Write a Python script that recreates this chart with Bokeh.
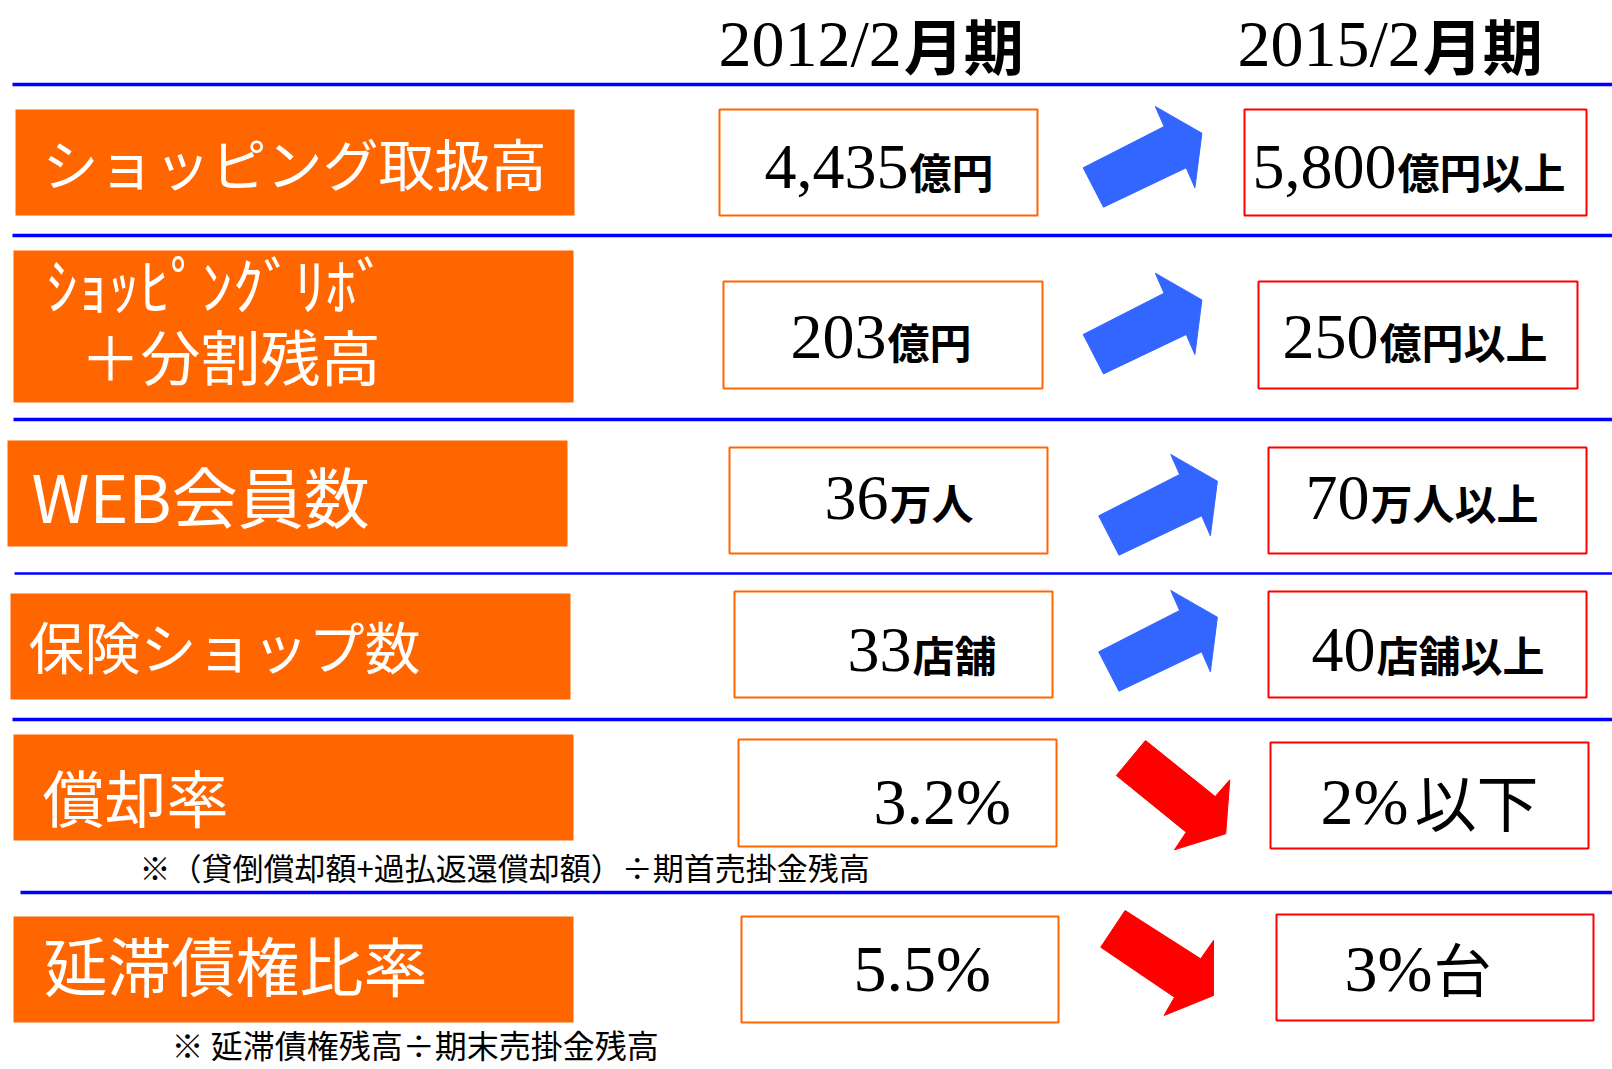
from bokeh.plotting import figure
from bokeh.models import Range1d, ColumnDataSource
from bokeh.core.properties import value
from bokeh.embed import file_html
from bokeh.resources import INLINE

# ---------------- data ----------------
period_years = ["2012/2", "2015/2"]
period_units = ["月期", "月期"]

metric_lines = [
    ["ショッピング取扱高"],
    ["ｼｮｯﾋﾟﾝｸﾞﾘﾎﾞ", "＋分割残高"],
    ["WEB会員数"],
    ["保険ショップ数"],
    ["償却率"],
    ["延滞債権比率"],
]
values_2012 = ["4,435", "203", "36", "33", "3.2%", "5.5%"]
units_2012 = ["億円", "億円", "万人", "店舗", "", ""]
targets_2015 = ["5,800", "250", "70", "40", "2%", "3%"]
units_2015 = ["億円以上", "億円以上", "万人以上", "店舗以上", "以下", "台"]
trend = ["up", "up", "up", "up", "down", "down"]
notes = ["", "", "", "",
         "※（貸倒償却額+過払返還償却額）÷期首売掛金残高",
         "※   延滞債権残高÷期末売掛金残高"]

# ---------------- layout / style ----------------
W, H = 1612, 1069
ORANGE = "#FF6600"
BLUE_LINE = "#0000FF"
BLUE_ARROW = "#3366FF"
RED = "#FF0000"
SERIF = "Liberation Serif"
GOTHIC = "Noto Sans CJK JP"

rule_y = [84, 235, 419, 573, 719, 892]
rule_x0 = [12, 12, 13, 14, 12, 20]
rule_w = [3.5, 3.5, 3.5, 2.5, 3.5, 3.5]

label_box = [(15, 574, 109, 215), (13, 573, 250, 402), (7, 567, 440, 546),
             (10, 570, 593, 699), (13, 573, 734, 840), (13, 573, 916, 1022)]
# per line: (x, y-center, font size)
label_pos = [
    [(42, 161, 56)],
    [(46, 282, 62), (80, 354, 60)],
    [(31, 493, 66)],
    [(28, 644, 56)],
    [(42, 795, 62)],
    [(43, 962, 64)],
]

box1 = [(719, 1037, 109, 215), (723, 1042, 281, 388), (729, 1047, 447, 553),
        (734, 1052, 591, 697), (738, 1056, 739, 846), (741, 1058, 916, 1022)]
box2 = [(1244, 1586, 109, 215), (1258, 1577, 281, 388), (1268, 1586, 447, 553),
        (1268, 1586, 591, 697), (1270, 1588, 742, 848), (1276, 1593, 914, 1020)]
num1_x = [764, 790, 824, 847, 873, 853]
num2_x = [1252, 1282, 1305, 1311, 1320, 1344]
num_cy = [166.5, 336.5, 497.5, 649.5, 800.5, 967.5]
num_fs = [64, 64, 64, 64, 66, 66]
unit_fs = [42, 42, 42, 42, 62, 58]
unit_dy = [3, 3, 3, 3, -1, -1]
unit_gap = [1, 1, 1, 1, 6, 1]
unit_bold = [True, True, True, True, False, False]

arrow_anchor = [(1082.7, 106), (1082.7, 272.7), (1098.2, 454), (1098.2, 590),
                (1115.9, 740), (1100.2, 910)]
arrow_shapes = {
    "up": [(0, 61.3), (80.9, 20), (72.1, 0), (118.7, 26.7), (111.7, 81.3),
           (103, 61.3), (20.3, 100.7)],
    "down_a": [(29.1, 0), (98.8, 56), (113.4, 39.3), (109.3, 93.3), (58.1, 109.3),
               (69.8, 91.7), (0, 35)],
    "down_b": [(24.4, 0), (100, 48.3), (112.8, 30), (112.8, 85), (63.4, 105),
               (73.8, 86.7), (0, 36.7)],
}
arrow_kind = ["up", "up", "up", "up", "down_a", "down_b"]

note_pos = [None, None, None, None, (139, 866, 31), (171, 1043, 32)]

header_x = [718, 1237]
header_cy = 42.5
header_fs = 66
header_unit_fs = 60
header_unit_cy = 43

SERIF_W = {",": 0.25, ".": 0.25, "%": 0.833, "/": 0.278}


def serif_width(s, fs):
    return sum(SERIF_W.get(c, 0.5) for c in s) * fs


# ---------------- figure ----------------
p = figure(width=W, height=H, output_backend="svg", toolbar_location=None,
           x_range=Range1d(0, W), y_range=Range1d(H, 0),
           min_border=0)
p.axis.visible = False
p.grid.visible = False
p.outline_line_color = None
p.background_fill_color = "white"
p.border_fill_color = "white"

# horizontal rules
p.segment(x0=rule_x0, y0=rule_y, x1=[W] * len(rule_y), y1=rule_y,
          line_color=BLUE_LINE, line_width=rule_w)

# headers
hdr_num = ColumnDataSource(dict(x=header_x, y=[header_cy] * 2, t=period_years))
p.text("x", "y", text="t", source=hdr_num, text_font=value(SERIF),
       text_font_size=value(f"{header_fs}px"), text_color="black",
       text_baseline="middle", text_align="left")
hdr_unit = ColumnDataSource(dict(
    x=[hx + serif_width(t, header_fs) + 2 for hx, t in zip(header_x, period_years)],
    y=[header_unit_cy] * 2, t=period_units))
p.text("x", "y", text="t", source=hdr_unit, text_font=value(GOTHIC),
       text_font_size=value(f"{header_unit_fs}px"), text_font_style="bold",
       text_color="black", text_baseline="middle", text_align="left")

# label boxes
p.quad(left=[b[0] for b in label_box], right=[b[1] for b in label_box],
       top=[b[2] for b in label_box], bottom=[b[3] for b in label_box],
       fill_color=ORANGE, line_color=None)

lx, ly, lt, lf = [], [], [], []
for lines, pos in zip(metric_lines, label_pos):
    for t, (x, y, fs) in zip(lines, pos):
        lx.append(x); ly.append(y); lt.append(t); lf.append(f"{fs}px")
p.text(x=lx, y=ly, text=lt, text_font_size=lf, text_font=value(GOTHIC),
       text_color="white", text_baseline="middle", text_align="left")

# value boxes
p.quad(left=[b[0] for b in box1], right=[b[1] for b in box1],
       top=[b[2] for b in box1], bottom=[b[3] for b in box1],
       fill_color="white", line_color=ORANGE, line_width=2)
p.quad(left=[b[0] for b in box2], right=[b[1] for b in box2],
       top=[b[2] for b in box2], bottom=[b[3] for b in box2],
       fill_color="white", line_color=RED, line_width=2)

# numbers
nx = num1_x + num2_x
ny = num_cy + num_cy
nt = values_2012 + targets_2015
nf = [f"{f}px" for f in num_fs + num_fs]
p.text(x=nx, y=ny, text=nt, text_font_size=nf, text_font=value(SERIF),
       text_color="black", text_baseline="middle", text_align="left")

# units
ub = dict(x=[], y=[], t=[], f=[])
un = dict(x=[], y=[], t=[], f=[])
for xs, vals, units in ((num1_x, values_2012, units_2012), (num2_x, targets_2015, units_2015)):
    for i, (x0, v, u) in enumerate(zip(xs, vals, units)):
        if not u:
            continue
        d = ub if unit_bold[i] else un
        d["x"].append(x0 + serif_width(v, num_fs[i]) + unit_gap[i])
        d["y"].append(num_cy[i] + unit_dy[i])
        d["t"].append(u)
        d["f"].append(f"{unit_fs[i]}px")
p.text(x=ub["x"], y=ub["y"], text=ub["t"], text_font_size=ub["f"],
       text_font=value(GOTHIC), text_font_style="bold", text_color="black",
       text_baseline="middle", text_align="left")
p.text(x=un["x"], y=un["y"], text=un["t"], text_font_size=un["f"],
       text_font=value(GOTHIC), text_color="black",
       text_baseline="middle", text_align="left")

# arrows
axs, ays, acol = [], [], []
for (ax, ay), kind, tr in zip(arrow_anchor, arrow_kind, trend):
    shape = arrow_shapes[kind]
    axs.append([ax + dx for dx, dy in shape])
    ays.append([ay + dy for dx, dy in shape])
    acol.append(BLUE_ARROW if tr == "up" else RED)
p.patches(xs=axs, ys=ays, fill_color=acol, line_color=acol, line_width=1)

# notes
ntx, nty, ntt, ntf = [], [], [], []
for n, pos in zip(notes, note_pos):
    if n and pos:
        ntx.append(pos[0]); nty.append(pos[1]); ntt.append(n); ntf.append(f"{pos[2]}px")
p.text(x=ntx, y=nty, text=ntt, text_font_size=ntf, text_font=value(GOTHIC),
       text_color="black", text_baseline="middle", text_align="left")

open("out.html", "w").write(file_html(p, INLINE))
